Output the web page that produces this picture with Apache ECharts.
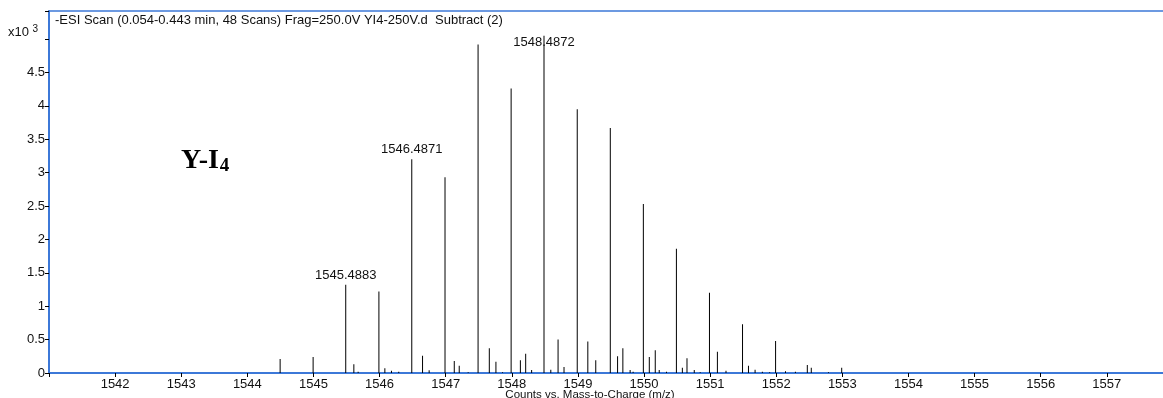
<!DOCTYPE html>
<html>
<head>
<meta charset="utf-8">
<script src="https://cdn.jsdelivr.net/npm/echarts@6/dist/echarts.min.js"></script>
<style>
html,body{margin:0;padding:0;background:#fff;}
#c{width:1163px;height:398px;}
</style>
</head>
<body>
<div id="c"></div>
<script>
// m/z positions of peaks
const mz = [
  1544.496, 1544.995, 1545.4883, 1545.611, 1545.676, 1545.990, 1546.080, 1546.180, 1546.290,
  1546.4871, 1546.650, 1546.750, 1546.990, 1547.130, 1547.205, 1547.340, 1547.490, 1547.660,
  1547.760, 1547.860, 1547.990, 1548.130, 1548.210, 1548.300, 1548.4872, 1548.590, 1548.700,
  1548.790, 1548.990, 1549.150, 1549.270, 1549.490, 1549.600, 1549.680, 1549.790, 1549.835,
  1549.990, 1550.080, 1550.170, 1550.230, 1550.340, 1550.490, 1550.580, 1550.650, 1550.760,
  1550.850, 1550.990, 1551.110, 1551.240, 1551.490, 1551.580, 1551.680, 1551.790, 1551.900,
  1551.990, 1552.140, 1552.290, 1552.470, 1552.530, 1552.790, 1552.990
];
// counts (x10^3)
const counts = [
  0.21, 0.24, 1.32, 0.13, 0.02, 1.22, 0.07, 0.035, 0.02,
  3.20, 0.26, 0.04, 2.93, 0.18, 0.11, 0.012, 4.92, 0.37,
  0.17, 0.012, 4.26, 0.19, 0.29, 0.045, 5.05, 0.05, 0.50,
  0.09, 3.95, 0.47, 0.19, 3.67, 0.25, 0.37, 0.045, 0.02,
  2.53, 0.24, 0.34, 0.045, 0.02, 1.86, 0.08, 0.22, 0.045,
  0.012, 1.20, 0.32, 0.035, 0.73, 0.11, 0.05, 0.02, 0.012,
  0.48, 0.025, 0.02, 0.12, 0.08, 0.012, 0.08
];
// labelled peaks
const labelledPeaks = ["1545.4883", "1546.4871", "1548.4872"];
const xTickLabels = ["1542","1543","1544","1545","1546","1547","1548","1549","1550","1551","1552","1553","1554","1555","1556","1557"];
const yTickLabels = ["0","0.5","1","1.5","2","2.5","3","3.5","4","4.5"];

const titleText = "-ESI Scan (0.054-0.443 min, 48 Scans) Frag=250.0V YI4-250V.d  Subtract (2)";
const blue = "#3c78d8";
const font = "Liberation Sans, Arial, sans-serif";

const seriesData = mz.map((m, i) => {
  const key = m.toFixed(4);
  const item = { value: [m, counts[i]] };
  if (labelledPeaks.includes(key)) {
    item.label = {
      show: true, position: 'top', distance: 3,
      formatter: key, color: '#111', fontSize: 13, fontFamily: font
    };
    if (key === "1548.4872") item.label.offset = [0, 16];
  }
  return item;
});

const chart = echarts.init(document.getElementById('c'), null, { renderer: 'canvas' });
chart.setOption({
  animation: false,
  backgroundColor: '#fff',
  title: {
    text: titleText, left: 50, top: 9,
    textStyle: { fontSize: 13, fontWeight: 'normal', color: '#111', fontFamily: font }
  },
  grid: { left: 49, right: 0, top: 11, bottom: 25, containLabel: false, outerBoundsMode: 'none' },
  xAxis: [{
    type: 'value', min: 1541, max: 1557.85, interval: 1,
    position: 'bottom',
    axisLine: { show: true, lineStyle: { color: blue, width: 2 } },
    axisTick: { show: true, length: 4, lineStyle: { color: '#000' } },
    splitLine: { show: false },
    axisLabel: {
      color: '#111', fontSize: 13, fontFamily: font, margin: 5,
      formatter: v => xTickLabels.includes(String(v)) ? String(v) : ''
    },
    name: 'Counts vs. Mass-to-Charge (m/z)', nameLocation: 'middle', nameGap: 16,
    nameMoveOverlap: false,
    nameTextStyle: { color: '#111', fontSize: 11.5, fontFamily: font, verticalAlign: 'top', padding: [0, 32, 0, 0] }
  }, {
    type: 'value', min: 1541, max: 1557.85, position: 'top',
    axisLine: { show: true, onZero: false, lineStyle: { color: blue, width: 1.5 } },
    axisTick: { show: false }, axisLabel: { show: false }, splitLine: { show: false }
  }],
  yAxis: {
    type: 'value', min: 0, max: 5.42, interval: 0.5,
    axisLine: { show: true, lineStyle: { color: blue, width: 2 } },
    axisTick: { show: true, length: 4, lineStyle: { color: '#000' } },
    splitLine: { show: false },
    axisLabel: {
      color: '#111', fontSize: 13, fontFamily: font, margin: 4,
      formatter: v => yTickLabels.includes(String(v)) ? String(v) : ''
    }
  },
  graphic: [{
    type: 'text', left: 8, top: 24,
    style: {
      text: '{a|x10 }{b|3}',
      rich: {
        a: { fontSize: 13, fontFamily: font, fill: '#111' },
        b: { fontSize: 10, fontFamily: font, fill: '#111', verticalAlign: 'top', padding: [0, 0, 6, 0] }
      }
    }
  }, {
    type: 'text', left: 181, top: 147,
    style: {
      text: '{a|Y-I}{b|4}',
      rich: {
        a: { fontSize: 28, fontWeight: 'bold', fontFamily: 'Liberation Serif, Times New Roman, serif', fill: '#000' },
        b: { fontSize: 19, fontWeight: 'bold', fontFamily: 'Liberation Serif, Times New Roman, serif', fill: '#000', padding: [10, 0, 0, 1] }
      }
    }
  }],
  series: [{
    type: 'bar', xAxisIndex: 0, yAxisIndex: 0,
    barWidth: 1, barGap: '0%',
    itemStyle: { color: '#000' },
    data: seriesData
  }]
});
</script>
</body>
</html>
